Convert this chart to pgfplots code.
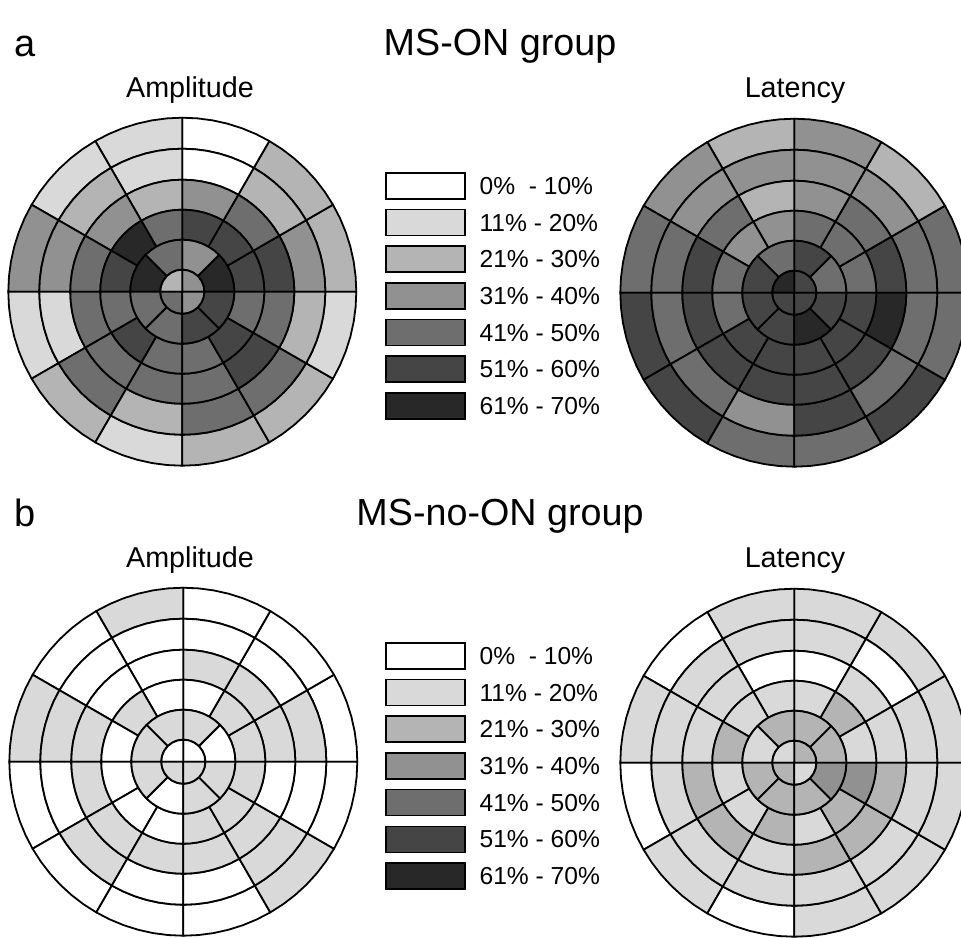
\documentclass[border=0pt]{standalone}
\usepackage{fontspec}
\setmainfont{Liberation Sans}
\usepackage{pgfplots}
\pgfplotsset{compat=1.18}

\definecolor{c0}{RGB}{255,255,255}
\definecolor{c1}{RGB}{217,217,217}
\definecolor{c2}{RGB}{180,180,180}
\definecolor{c3}{RGB}{145,145,145}
\definecolor{c4}{RGB}{110,110,110}
\definecolor{c5}{RGB}{69,69,69}
\definecolor{c6}{RGB}{40,40,40}

\pgfplotsset{
  cellbase/.style={draw=black,line width=0.9pt,line join=round},
  lev0/.style={cellbase,fill=c0},
  lev1/.style={cellbase,fill=c1},
  lev2/.style={cellbase,fill=c2},
  lev3/.style={cellbase,fill=c3},
  lev4/.style={cellbase,fill=c4},
  lev5/.style={cellbase,fill=c5},
  lev6/.style={cellbase,fill=c6},
  disc/.style={scale only axis,width=174pt,height=174pt,
    xmin=-174,xmax=174,ymin=-174,ymax=174,
    hide axis,data cs=polar,anchor=origin,clip=false},
  lgd/.style={legend style={at={#1},anchor=north west,draw=none,fill=none,
    inner sep=0pt,outer sep=0pt,row sep=4.55pt,column sep=7pt,
    nodes={inner sep=0pt,text depth=0pt},cells={anchor=west},
    font=\fontsize{12.3pt}{14pt}\selectfont}},
}

% one annular cell: angle from #1 to #2, radius from #3 to #4, grey level #5
\newcommand\cell[5]{%
  \gdef\cellpts{}%
  \foreach \k in {0,...,6}{%
    \pgfmathsetmacro\ang{#1+(#2-#1)*\k/6}%
    \xdef\cellpts{\cellpts(\ang,#4)}%
  }%
  \foreach \k in {6,...,0}{%
    \pgfmathsetmacro\ang{#1+(#2-#1)*\k/6}%
    \xdef\cellpts{\cellpts(\ang,#3)}%
  }%
  \edef\next{\noexpand\addplot[lev#5,forget plot] coordinates {\cellpts} -- cycle;}%
  \next
}
% one ring: inner radius, outer radius, sector angle, levels from 0 deg counterclockwise
\newcommand\ring[4]{%
  \foreach \lv [count=\i from 0] in {#4}{%
    \pgfmathsetmacro\cA{\i*#3}%
    \pgfmathsetmacro\cB{(\i+1)*#3}%
    \cell{\cA}{\cB}{#1}{#2}{\lv}%
  }%
}

\begin{document}
\begin{tikzpicture}
\useasboundingbox (0,0) rectangle (480.5pt,-468.5pt);

% ---------------- a: MS-ON, Amplitude
\begin{axis}[disc,at={(91.15pt,-145.85pt)},lgd={(1.0825,0.844)},
  legend image code/.code={\draw[#1,draw=black,line width=0.8pt] (0pt,-6.5pt) rectangle (39.5pt,6.5pt);}]
\ring{143}{174}{30}{2,2,0,1,1,3,1,2,1,2,2,1}
\ring{112}{143}{30}{3,2,0,1,2,3,1,4,2,4,4,2}
\ring{82}{112}{30}{5,4,3,2,3,4,4,4,4,4,5,4}
\ring{52}{82}{30}{5,5,5,4,6,5,4,5,4,4,5,4}
\ring{22}{52}{45}{6,3,4,6,4,4,5,5}
\ring{0}{22}{90}{3,2,4,3}
\addlegendimage{fill=c0}\addlegendentry{0\%\ \ - 10\%}
\addlegendimage{fill=c1}\addlegendentry{11\% - 20\%}
\addlegendimage{fill=c2}\addlegendentry{21\% - 30\%}
\addlegendimage{fill=c3}\addlegendentry{31\% - 40\%}
\addlegendimage{fill=c4}\addlegendentry{41\% - 50\%}
\addlegendimage{fill=c5}\addlegendentry{51\% - 60\%}
\addlegendimage{fill=c6}\addlegendentry{61\% - 70\%}
\end{axis}

% ---------------- a: MS-ON, Latency
\begin{axis}[disc,at={(397.15pt,-146.35pt)}]
\ring{143}{174}{30}{4,2,3,2,3,4,5,5,4,4,5,4}
\ring{112}{143}{30}{4,3,3,3,3,4,4,4,3,5,4,4}
\ring{82}{112}{30}{5,4,3,2,4,5,5,5,5,5,5,6}
\ring{52}{82}{30}{4,4,4,3,3,4,4,5,5,5,5,5}
\ring{22}{52}{45}{4,5,4,5,5,5,6,5}
\ring{0}{22}{90}{5,6,5,5}
\end{axis}

% ---------------- b: MS-no-ON, Amplitude
\begin{axis}[disc,at={(91.65pt,-380.85pt)},lgd={(1.0796,0.844)},
  legend image code/.code={\draw[#1,draw=black,line width=0.8pt] (0pt,-6.5pt) rectangle (39.5pt,6.5pt);}]
\ring{143}{174}{30}{0,0,0,1,0,1,0,0,0,0,1,0}
\ring{112}{143}{30}{1,0,0,0,0,1,0,1,0,0,1,0}
\ring{82}{112}{30}{1,1,1,0,0,1,1,1,1,1,1,0}
\ring{52}{82}{30}{1,1,0,0,1,0,0,0,0,1,1,1}
\ring{22}{52}{45}{0,1,1,1,1,0,1,1}
\ring{0}{22}{90}{0,0,1,1}
\addlegendimage{fill=c0}\addlegendentry{0\%\ \ - 10\%}
\addlegendimage{fill=c1}\addlegendentry{11\% - 20\%}
\addlegendimage{fill=c2}\addlegendentry{21\% - 30\%}
\addlegendimage{fill=c3}\addlegendentry{31\% - 40\%}
\addlegendimage{fill=c4}\addlegendentry{41\% - 50\%}
\addlegendimage{fill=c5}\addlegendentry{51\% - 60\%}
\addlegendimage{fill=c6}\addlegendentry{61\% - 70\%}
\end{axis}

% ---------------- b: MS-no-ON, Latency
\begin{axis}[disc,at={(397.15pt,-381.35pt)}]
\ring{143}{174}{30}{1,1,1,1,0,1,0,1,0,1,1,1}
\ring{112}{143}{30}{1,0,1,1,1,1,1,1,1,1,1,1}
\ring{82}{112}{30}{1,1,0,0,1,1,2,2,1,2,2,2}
\ring{52}{82}{30}{1,2,1,1,1,2,1,1,2,1,2,3}
\ring{22}{52}{45}{2,2,2,1,2,2,2,3}
\ring{0}{22}{90}{2,1,2,1}
\end{axis}

% ---------------- texts
\node[anchor=base west,inner sep=0pt,font=\fontsize{19pt}{22pt}\selectfont] at (7pt,-28pt) {a};
\node[anchor=base,inner sep=0pt,font=\fontsize{18.85pt}{22pt}\selectfont] at (250pt,-27.5pt) {MS-ON group};
\node[anchor=base,inner sep=0pt,font=\fontsize{14.35pt}{17pt}\selectfont] at (95pt,-48.5pt) {Amplitude};
\node[anchor=base,inner sep=0pt,font=\fontsize{14.35pt}{17pt}\selectfont] at (397.5pt,-48.5pt) {Latency};
\node[anchor=base west,inner sep=0pt,font=\fontsize{19pt}{22pt}\selectfont] at (7pt,-263pt) {b};
\node[anchor=base,inner sep=0pt,font=\fontsize{18.85pt}{22pt}\selectfont] at (250pt,-262.5pt) {MS-no-ON group};
\node[anchor=base,inner sep=0pt,font=\fontsize{14.35pt}{17pt}\selectfont] at (95pt,-283.5pt) {Amplitude};
\node[anchor=base,inner sep=0pt,font=\fontsize{14.35pt}{17pt}\selectfont] at (397.5pt,-283.5pt) {Latency};
\end{tikzpicture}
\end{document}
